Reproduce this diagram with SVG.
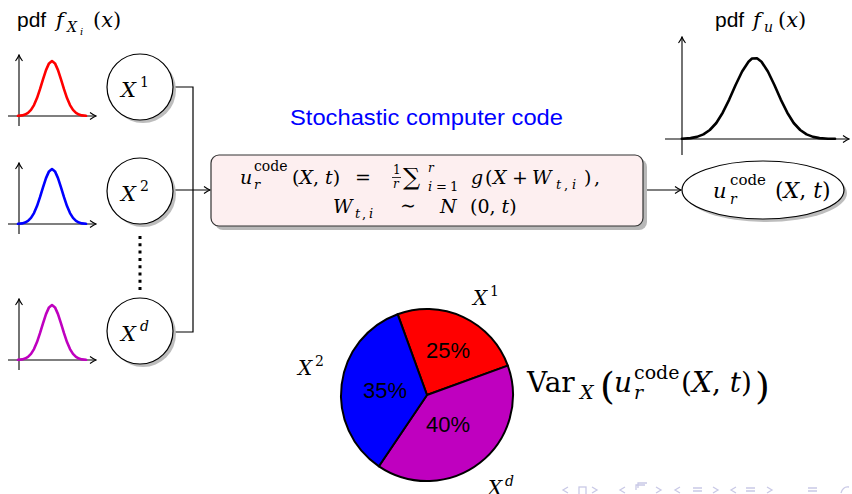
<svg xmlns="http://www.w3.org/2000/svg" width="852" height="494" viewBox="0 0 852 494">
<style>
.sans{font-family:"Liberation Sans",Arial,sans-serif;fill:#000}
.m{font-family:"DejaVu Serif","Liberation Serif",serif;fill:#000}
.i{font-style:italic}
.ax{stroke:#000;stroke-width:1.1;fill:none}
.curve{fill:none;stroke-width:2.6;stroke-linejoin:round;stroke-linecap:round}
.node{fill:#fff;stroke:#000;stroke-width:1.2}
.shadow{fill:#bdbdbd}
.conn{fill:none;stroke:#000;stroke-width:1.2}
.pie{stroke:#000;stroke-width:2;stroke-linejoin:round}
.nav{fill:none;stroke:#c9c9e6;stroke-width:1.3}
</style>
<defs>
<marker id="arr" viewBox="-8 -5 9 10" markerWidth="9" markerHeight="10" refX="0" refY="0" orient="auto" markerUnits="userSpaceOnUse">
<path d="M-6,-3.5 Q-2,-0.6 0,0 Q-2,0.6 -6,3.5" fill="none" stroke="#000" stroke-width="1.1"/>
</marker>
<path id="gauss" d="M-34,-0.2 L-30,-0.6 L-27,-1.4 L-24,-3.1 L-21,-6.1 L-18,-10.9 L-15,-17.9 L-12,-26.8 L-9,-36.7 L-6,-45.9 L-3,-52.6 L0,-55 L3,-52.6 L6,-45.9 L9,-36.7 L12,-26.8 L15,-17.9 L18,-10.9 L21,-6.1 L24,-3.1 L27,-1.4 L30,-0.6 L34,-0.2"/>
<g id="smallplot">
<line class="ax" x1="19" y1="126" x2="19" y2="55" marker-end="url(#arr)"/>
<line class="ax" x1="8" y1="116" x2="96" y2="116" marker-end="url(#arr)"/>
</g>
</defs>

<!-- labels -->
<g id="label-pdf-left">
<text class="sans" x="17" y="27" font-size="21">pdf</text>
<text class="m i" x="56" y="27" font-size="21">f</text>
<text class="m i" x="67" y="32" font-size="14">X</text>
<text class="m i" x="80" y="35" font-size="10">i</text>
<text class="m" x="93" y="27" font-size="21">(<tspan class="i">x</tspan>)</text>
</g>
<g id="label-pdf-right">
<text class="sans" x="715" y="27" font-size="21">pdf</text>
<text class="m i" x="753" y="27" font-size="21">f</text>
<text class="m i" x="764" y="32" font-size="14">u</text>
<text class="m" x="778" y="27" font-size="21">(<tspan class="i">x</tspan>)</text>
</g>
<text id="title" class="sans" x="290" y="125" font-size="22" style="fill:#0000ff" textLength="273" lengthAdjust="spacingAndGlyphs">Stochastic computer code</text>

<!-- small pdf plots -->
<g id="plot1">
<use href="#smallplot"/>
<use href="#gauss" class="curve" stroke="#ff0000" transform="translate(52,116)"/>
</g>
<g id="plot2" transform="translate(0,108)">
<use href="#smallplot"/>
<use href="#gauss" class="curve" stroke="#0000ff" transform="translate(52,116)"/>
</g>
<g id="plot3" transform="translate(0,244)">
<use href="#smallplot"/>
<use href="#gauss" class="curve" stroke="#bf00bf" transform="translate(52,116)"/>
</g>

<!-- output pdf plot -->
<g id="plot-out">
<line class="ax" x1="682" y1="155" x2="682" y2="37" marker-end="url(#arr)"/>
<line class="ax" x1="665" y1="139" x2="849" y2="139" marker-end="url(#arr)"/>
<path class="curve" stroke="#000" d="M681.9,138.7 L690.5,138.1 L696.9,136.9 L703.4,134.4 L709.8,130 L716.3,123 L722.7,112.7 L729.2,99.6 L735.6,85 L742.1,71.5 L748.5,61.7 L752,58.5 L757,58.3 L761.5,61.7 L767.9,71.5 L774.4,85 L780.8,99.6 L787.3,112.7 L793.7,123 L800.2,130 L806.6,134.4 L813.1,136.9 L819.5,138.1 L828.1,138.7 L835,138.8"/>
</g>

<!-- connectors -->
<g id="connectors">
<path class="conn" d="M173,87 H193 V332 H173"/>
<line class="conn" x1="173" y1="190" x2="210" y2="190" marker-end="url(#arr)"/>
<line class="conn" x1="644" y1="190" x2="681" y2="190" marker-end="url(#arr)"/>
<line x1="140" y1="236" x2="140" y2="294" stroke="#000" stroke-width="3" stroke-dasharray="3,4.3"/>
</g>

<!-- input nodes -->
<g id="node-x1">
<circle class="shadow" cx="143" cy="90" r="33"/>
<circle class="node" cx="140" cy="87" r="33"/>
<text class="m i" x="121" y="97" font-size="21">X</text>
<text class="m" x="140" y="87" font-size="14">1</text>
</g>
<g id="node-x2">
<circle class="shadow" cx="143" cy="194" r="33"/>
<circle class="node" cx="140" cy="191" r="33"/>
<text class="m i" x="121" y="201" font-size="21">X</text>
<text class="m" x="140" y="191" font-size="14">2</text>
</g>
<g id="node-xd">
<circle class="shadow" cx="143" cy="334" r="33"/>
<circle class="node" cx="140" cy="331" r="33"/>
<text class="m i" x="121" y="341" font-size="21">X</text>
<text class="m i" x="140" y="331" font-size="14">d</text>
</g>

<!-- code box -->
<g id="node-code">
<rect x="215" y="159" width="432" height="71" rx="8" fill="#b8b8b8"/>
<rect x="211" y="155" width="432" height="71" rx="8" fill="#fdeff0" stroke="#333" stroke-width="1.2"/>
<text class="m i" x="240" y="184" font-size="19">u</text>
<text class="m" x="254" y="171" font-size="14">code</text>
<text class="m i" x="254" y="189" font-size="13">r</text>
<text class="m" x="292" y="184" font-size="19">(<tspan class="i">X</tspan>, <tspan class="i">t</tspan>)</text>
<text class="m" x="355" y="184" font-size="19">=</text>
<text class="m" x="393" y="174" font-size="12">1</text>
<line x1="392" y1="177.5" x2="401" y2="177.5" stroke="#000" stroke-width="0.8"/>
<text class="m i" x="393" y="188" font-size="12">r</text>
<text class="m" x="403" y="185" font-size="24">∑</text>
<text class="m i" x="428" y="172" font-size="12">r</text>
<text class="m" y="191" font-size="13"><tspan x="428" class="i">i</tspan><tspan x="436">=</tspan><tspan x="450">1</tspan></text>
<text class="m i" x="471" y="184" font-size="19">g</text>
<text class="m" y="184" font-size="19"><tspan x="485">(</tspan><tspan x="493" class="i">X</tspan><tspan x="512">+</tspan><tspan x="532" class="i">W</tspan></text>
<text class="m" y="189" font-size="13"><tspan x="556" class="i">t</tspan><tspan x="564">,</tspan><tspan x="572" class="i">i</tspan></text>
<text class="m" y="184" font-size="19"><tspan x="584">)</tspan><tspan x="594">,</tspan></text>
<text class="m i" x="333" y="213" font-size="19">W</text>
<text class="m" y="218" font-size="13"><tspan x="355" class="i">t</tspan><tspan x="362">,</tspan><tspan x="369" class="i">i</tspan></text>
<text class="m" x="400" y="212" font-size="19">∼</text>
<text class="m i" x="440" y="213" font-size="19">N</text>
<text class="m" x="470" y="213" font-size="19">(0, <tspan class="i">t</tspan>)</text>
</g>

<!-- output node -->
<g id="node-out">
<ellipse class="shadow" cx="766" cy="193" rx="81" ry="29"/>
<ellipse class="node" cx="763" cy="190" rx="81" ry="29"/>
<text class="m i" x="713" y="198" font-size="21">u</text>
<text class="m" x="730" y="185" font-size="15">code</text>
<text class="m i" x="730" y="204" font-size="14">r</text>
<text class="m" x="775" y="198" font-size="22">(<tspan class="i">X</tspan>, <tspan class="i">t</tspan>)</text>
</g>

<!-- pie chart -->
<g id="pie">
<path class="pie" fill="#ff0000" d="M427,395 L397.6,314.2 A86,86 0 0,1 507.8,365.6 Z"/>
<path class="pie" fill="#bf00bf" d="M427,395 L507.8,365.6 A86,86 0 0,1 378.9,466.3 Z"/>
<path class="pie" fill="#0000ff" d="M427,395 L378.9,466.3 A86,86 0 0,1 397.6,314.2 Z"/>
<text class="sans" x="448" y="358" font-size="22" text-anchor="middle">25%</text>
<text class="sans" x="385" y="398" font-size="22" text-anchor="middle">35%</text>
<text class="sans" x="448" y="432" font-size="22" text-anchor="middle">40%</text>
<text class="m i" x="473" y="305" font-size="20">X</text>
<text class="m" x="490" y="296" font-size="14">1</text>
<text class="m i" x="298" y="375" font-size="20">X</text>
<text class="m" x="315" y="366" font-size="14">2</text>
<text class="m i" x="488" y="495" font-size="20">X</text>
<text class="m i" x="505" y="486" font-size="14">d</text>
</g>
<g id="var-label">
<text class="m" x="527" y="392" font-size="28">Var</text>
<text class="m i" x="580" y="399" font-size="19">X</text>
<text class="m" x="600" y="399" font-size="38">(</text>
<text class="m i" x="614" y="392" font-size="28">u</text>
<text class="m" x="634" y="379" font-size="19">code</text>
<text class="m i" x="634" y="399" font-size="19">r</text>
<text class="m" x="681" y="392" font-size="28">(<tspan class="i">X</tspan>, <tspan class="i">t</tspan>)</text>
<text class="m" x="755" y="399" font-size="38">)</text>
</g>

<!-- beamer navigation symbols -->
<g id="nav">
<path class="nav" d="M568,487 L563,490 L568,493"/>
<rect class="nav" x="579" y="487" width="7" height="8"/>
<path class="nav" d="M592,487 L597,490 L592,493"/>
<path class="nav" d="M625,487 L620,490 L625,493"/>
<path class="nav" d="M636,490 V485 H645 M638,488 V483 H647"/>
<path class="nav" d="M656,487 L661,490 L656,493"/>
<path class="nav" d="M680,487 L675,490 L680,493"/>
<path class="nav" d="M693,488 H702 M693,491 H702"/>
<path class="nav" d="M713,487 L718,490 L713,493"/>
<path class="nav" d="M736,487 L731,490 L736,493"/>
<path class="nav" d="M746,488 H755 M746,491 H755"/>
<path class="nav" d="M767,487 L772,490 L767,493"/>
<path class="nav" d="M808,488 H817 M808,491 H817"/>
<path class="nav" d="M841,493 Q843,486 849,487"/>
</g>
</svg>
